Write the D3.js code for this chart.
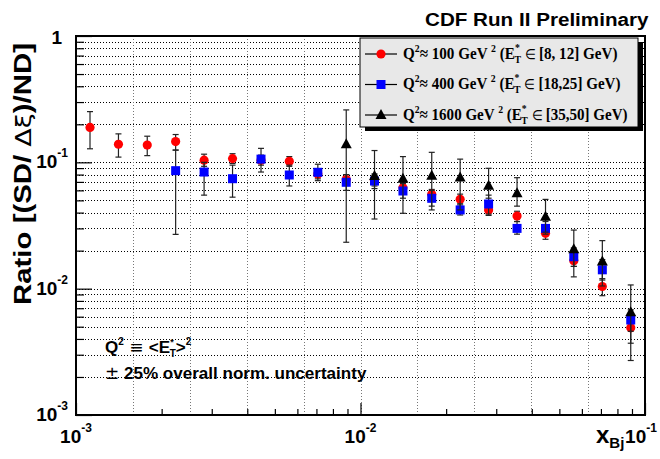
<!DOCTYPE html>
<html>
<head>
<meta charset="utf-8">
<script src="https://cdn.jsdelivr.net/npm/d3@7"></script>
<style>
  body { margin: 0; background: #fff; }
  svg { display: block; }
</style>
</head>
<body>
<svg id="mainsvg" width="660" height="459"></svg>
<script>
// bin centres in x_Bj
const xBj = [1.12e-3, 1.41e-3, 1.78e-3, 2.24e-3, 2.82e-3, 3.55e-3, 4.47e-3, 5.62e-3, 7.08e-3, 8.91e-3,
             1.12e-2, 1.41e-2, 1.78e-2, 2.24e-2, 2.82e-2, 3.55e-2, 4.47e-2, 5.62e-2, 7.08e-2, 8.91e-2]

// Q^2 ~ 100 GeV^2
const ratio100 = [0.189, 0.139, 0.137, 0.146, 0.104, 0.107, 0.104, 0.102, 0.081, 0.073,
                  0.072, 0.063, 0.056, 0.051, 0.042, 0.0376, 0.0274, 0.0166, 0.0104, 0.0049]
const lo100 = [0.128, 0.110, 0.113, 0.125, 0.093, 0.098, 0.095, 0.093, 0.074, 0.066,
               0.065, 0.057, 0.051, 0.046, 0.038, 0.034, 0.0246, 0.015, 0.0088, 0.0037]
const hi100 = [0.252, 0.168, 0.161, 0.166, 0.116, 0.117, 0.114, 0.111, 0.089, 0.080,
               0.079, 0.069, 0.061, 0.056, 0.046, 0.041, 0.030, 0.0183, 0.012, 0.0061]

// Q^2 ~ 400 GeV^2
const ratio400 = [null, null, null, 0.0859, 0.0838, 0.0742, 0.106, 0.0794, 0.0834, 0.0695,
                  0.0711, 0.0593, 0.0519, 0.042, 0.0468, 0.030, 0.030, 0.0179, 0.0141, 0.00565]
const lo400 = [null, null, null, 0.0269, 0.055, 0.053, 0.0838, 0.065, 0.0716, 0.060,
               0.062, 0.052, 0.045, 0.0383, 0.0389, 0.027, 0.027, 0.015, 0.0117, 0.0046]
const hi400 = [null, null, null, 0.125, 0.100, 0.095, 0.129, 0.095, 0.0966, 0.080,
               0.081, 0.068, 0.060, 0.047, 0.055, 0.034, 0.034, 0.021, 0.017, 0.0068]

// Q^2 ~ 1600 GeV^2
const ratio1600 = [null, null, null, null, null, null, null, null, null, 0.139,
                   0.078, 0.0742, 0.0784, 0.076, 0.0653, 0.0569, 0.0371, 0.0205, 0.0164, 0.0065]
const lo1600 = [null, null, null, null, null, null, null, null, null, 0.0233,
                0.0356, 0.0395, 0.042, 0.042, 0.052, 0.045, 0.028, 0.0124, 0.0105, 0.0027]
const hi1600 = [null, null, null, null, null, null, null, null, null, 0.26,
                0.124, 0.111, 0.12, 0.106, 0.0897, 0.0756, 0.0509, 0.0291, 0.024, 0.0107]

const xMajor = [1e-3, 1e-2, 1e-1]
const xMajorExp = ['-3', '-2', '-1']
const yMajor = [1e-3, 1e-2, 1e-1, 1]
const yMajorExp = ['-3', '-2', '-1', '']

const legendLabels = [
    {q: '100', et: '[8, 12] GeV)'},
    {q: '400', et: '[18,25] GeV)'},
    {q: '1600', et: '[35,50] GeV)'}
]

const svg = d3.select('#mainsvg')
const pLeft = 76, pRight = 645, pTop = 36, pBottom = 415

const x = d3.scaleLog().domain([1e-3, 1e-1]).range([pLeft, pRight])
const y = d3.scaleLog().domain([1e-3, 1]).range([pBottom, pTop])

// squeeze a text element horizontally so it spans `w` px from x0
function fitWidth(t, x0, w) {
    const bw = t.node().getBBox().width
    const s = w / bw
    t.attr('transform', `translate(${x0},0) scale(${s},1) translate(${-x0},0)`)
}

// minor tick positions 2..9 per decade
const minorOf = (decades) => decades.flatMap(d => d3.range(2, 10).map(k => k * d))
const xMinor = minorOf([1e-3, 1e-2])
const yMinor = minorOf([1e-3, 1e-2, 1e-1])
// vertical grid every 0.2 decade
const xGrid = d3.range(1, 10).map(k => Math.pow(10, -3 + 0.2 * k))

const grid = svg.append('g')
grid.selectAll('line.h').data(yMinor.concat([1e-2, 1e-1])).join('line')
    .attr('class', 'h')
    .attr('x1', pLeft).attr('x2', pRight)
    .attr('y1', d => Math.round(y(d)) + 0.5).attr('y2', d => Math.round(y(d)) + 0.5)
    .attr('stroke', '#000').attr('stroke-width', 1).attr('stroke-dasharray', '1,2')
grid.selectAll('line.v').data(xGrid).join('line')
    .attr('class', 'v')
    .attr('y1', pTop).attr('y2', pBottom)
    .attr('x1', d => Math.round(x(d)) + 0.5).attr('x2', d => Math.round(x(d)) + 0.5)
    .attr('stroke', '#777').attr('stroke-width', 1).attr('stroke-dasharray', '1,2')

// axes ticks (inside)
const axisStyle = g => { g.select('.domain').remove(); g.selectAll('line').attr('stroke', '#000').attr('stroke-width', 1.2) }
svg.append('g').attr('transform', `translate(${pLeft},0)`)
    .call(d3.axisLeft(y).tickValues(yMinor).tickSize(-8).tickFormat(''))
    .call(axisStyle)
svg.append('g').attr('transform', `translate(${pLeft},0)`)
    .call(d3.axisLeft(y).tickValues(yMajor).tickSize(-16).tickFormat(''))
    .call(axisStyle)
svg.append('g').attr('transform', `translate(0,${pBottom})`)
    .call(d3.axisBottom(x).tickValues(xMinor).tickSize(-6).tickFormat(''))
    .call(axisStyle)
svg.append('g').attr('transform', `translate(0,${pBottom})`)
    .call(d3.axisBottom(x).tickValues(xMajor).tickSize(-12).tickFormat(''))
    .call(axisStyle)

// frame
svg.append('rect')
    .attr('x', pLeft).attr('y', pTop).attr('width', pRight - pLeft).attr('height', pBottom - pTop)
    .attr('fill', 'none').attr('stroke', '#000').attr('stroke-width', 2)

// tick labels
const font = 'Liberation Sans, Arial, Helvetica, sans-serif'
yMajor.forEach((v, i) => {
    const t = svg.append('text').attr('text-anchor', 'end')
        .attr('font-family', font).attr('font-weight', 'bold').attr('font-size', 19)
        .attr('y', Math.max(y(v) + 6, 44))
    if (yMajorExp[i] === '') {
        t.attr('x', 62).text('1')
    } else {
        t.attr('x', 68)
        t.append('tspan').text('10')
        t.append('tspan').attr('font-size', 12).attr('dy', -11).text(yMajorExp[i])
    }
})
xMajor.forEach((v, i) => {
    const t = svg.append('text').attr('text-anchor', 'middle')
        .attr('font-family', font).attr('font-weight', 'bold').attr('font-size', 19)
        .attr('x', i === 2 ? x(v) - 4 : x(v)).attr('y', 443)
    t.append('tspan').text('10')
    t.append('tspan').attr('font-size', 12).attr('dy', -11).text(xMajorExp[i])
})

// axis titles
svg.append('text')
    .attr('font-family', font).attr('font-weight', 'bold').attr('font-size', 24)
    .attr('x', 596).attr('y', 443)
    .call(t => {
        t.append('tspan').text('x')
        t.append('tspan').attr('font-size', 15).attr('dy', 5).text('Bj')
    })

svg.append('text')
    .attr('transform', 'translate(31,174) rotate(-90)')
    .attr('text-anchor', 'middle')
    .attr('font-family', font).attr('font-weight', 'bold').attr('font-size', 24)
    .attr('textLength', 262).attr('lengthAdjust', 'spacingAndGlyphs')
    .call(t => {
        t.append('tspan').text('Ratio [(SD/ ')
        t.append('tspan').attr('font-weight', 'normal').attr('font-family', 'DejaVu Sans').attr('font-size', 22).text('Δξ')
        t.append('tspan').text(')/ND]')
    })

const title = svg.append('text')
    .attr('font-family', font).attr('font-weight', 'bold').attr('font-size', 19)
    .attr('x', 425).attr('y', 26)
    .text('CDF Run II Preliminary')
fitWidth(title, 425, 224)

// data series
function drawSeries(vals, lo, hi, shape, color) {
    const pts = xBj.map((xv, i) => ({x: xv, v: vals[i], lo: lo[i], hi: hi[i]})).filter(d => d.v != null)
    const g = svg.append('g')
    g.selectAll('line.err').data(pts).join('line')
        .attr('x1', d => x(d.x)).attr('x2', d => x(d.x))
        .attr('y1', d => y(d.lo)).attr('y2', d => y(d.hi))
        .attr('stroke', '#222').attr('stroke-width', 1.2)
    ;['lo', 'hi'].forEach(k => {
        g.selectAll('line.cap' + k).data(pts).join('line')
            .attr('x1', d => x(d.x) - 3).attr('x2', d => x(d.x) + 3)
            .attr('y1', d => y(d[k])).attr('y2', d => y(d[k]))
            .attr('stroke', '#222').attr('stroke-width', 1.2)
    })
    g.selectAll('path.m').data(pts).join('path')
        .attr('transform', d => `translate(${x(d.x)},${y(d.v)})`)
        .attr('d', shape)
        .attr('fill', color)
}
const circle = d3.symbol().type(d3.symbolCircle).size(66)()
const square = 'M-4.5,-4.5H4.5V4.5H-4.5Z'
const triangle = 'M0,-6L5.5,4L-5.5,4Z'

drawSeries(ratio100, lo100, hi100, circle, '#ff0000')
drawSeries(ratio400, lo400, hi400, square, '#0000ff')
drawSeries(ratio1600, lo1600, hi1600, triangle, '#000000')

// legend
const lg = svg.append('g')
lg.append('rect').attr('x', 365).attr('y', 42).attr('width', 278).attr('height', 89).attr('fill', '#000')
lg.append('rect').attr('x', 360).attr('y', 38).attr('width', 278).attr('height', 89)
    .attr('fill', '#e8e8e8').attr('stroke', '#000').attr('stroke-width', 1)
const shapes = [circle, square, triangle]
const colors = ['#ff0000', '#0000ff', '#000000']
const legendWidths = [215, 218, 225]
const serif = 'Liberation Serif, Times New Roman, serif'
legendLabels.forEach((l, i) => {
    const cy = 54 + i * 30.5
    lg.append('line').attr('x1', 365).attr('x2', 397).attr('y1', cy).attr('y2', cy)
        .attr('stroke', '#000').attr('stroke-width', 1.2)
    lg.append('path').attr('transform', `translate(381,${cy})`).attr('d', shapes[i]).attr('fill', colors[i])
    const t = lg.append('text').attr('x', 403).attr('y', cy + 5)
        .attr('font-family', serif).attr('font-weight', 'bold').attr('font-size', 17)
    t.append('tspan').text('Q')
    t.append('tspan').attr('font-size', 11).attr('dy', -7).text('2')
    t.append('tspan').attr('dy', 7).text('≈ ' + l.q + ' GeV ')
    t.append('tspan').attr('font-size', 11).attr('dy', -7).text('2')
    t.append('tspan').attr('dy', 7).text(' (E')
    t.append('tspan').attr('font-size', 11).attr('dy', -8).text('*')
    t.append('tspan').attr('font-size', 11).attr('dx', -6).attr('dy', 12).text('T')
    t.append('tspan').attr('dy', -4).text(' ')
    t.append('tspan').attr('font-weight', 'normal').attr('font-size', 14).text('∈')
    t.append('tspan').text(' ' + l.et)
    fitWidth(t, 403, legendWidths[i])
})

// annotations
const n1 = svg.append('text').attr('x', 105).attr('y', 353)
    .attr('font-family', font).attr('font-weight', 'bold').attr('font-size', 17)
n1.append('tspan').text('Q')
n1.append('tspan').attr('font-size', 10).attr('dy', -8).text('2')
n1.append('tspan').attr('dy', 8).attr('font-weight', 'normal').attr('font-family', 'DejaVu Sans').text(' ≡ ')
n1.append('tspan').text('<E')
n1.append('tspan').attr('font-size', 9).attr('dy', -8).text('*')
n1.append('tspan').attr('font-size', 10).attr('dx', -4).attr('dy', 12).text('T')
n1.append('tspan').attr('dy', -4).text('>')
n1.append('tspan').attr('font-size', 10).attr('dy', -8).text('2')

const n2 = svg.append('text').attr('x', 105).attr('y', 379)
    .attr('font-family', font).attr('font-weight', 'bold').attr('font-size', 17)
n2.append('tspan').attr('font-weight', 'normal').attr('font-family', 'DejaVu Sans').text('±')
n2.append('tspan').text(' 25% overall norm. uncertainty')
fitWidth(n2, 105, 262)
</script>
</body>
</html>
